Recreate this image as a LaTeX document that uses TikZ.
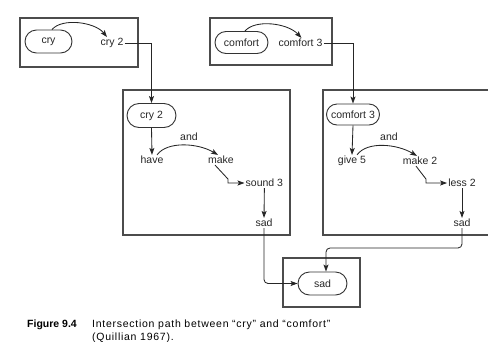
\documentclass[tikz,border=0pt]{standalone}
\usepackage{fontspec}
\setmainfont{Liberation Sans}
\newfontfamily\capfont[LetterSpace=7]{Liberation Sans}
\usetikzlibrary{shapes.misc,arrows.meta}
\begin{document}
\begin{tikzpicture}[x=1pt,y=-1pt,
  lbl/.style={font=\fontsize{10.5}{12}\selectfont, inner sep=1pt, text=black!85},
  pill/.style={draw=black!80, line width=0.9pt, rounded rectangle, inner sep=0pt,
    font=\fontsize{10.5}{12}\selectfont, text=black!85},
  frame/.style={draw=black!70, line width=1.1pt, inner sep=0pt},
  con/.style={draw=black!85, line width=0.85pt},
  arr/.style={con, -{Stealth[length=7pt,width=5pt,inset=1.5pt]}},
  rc/.style={rounded corners=4pt}]
\useasboundingbox (0,0) rectangle (488,341);
% top boxes
\node[frame, minimum width=118pt, minimum height=49pt] (boxA) at (79,42.5) {};
\node[pill, minimum width=47pt, minimum height=23pt] (cry) at (48.5,41.5) {cry};
\node[lbl] (cry2) at (112,43) {cry 2};
\node[frame, minimum width=122pt, minimum height=47pt] (boxB) at (271,41.5) {};
\node[pill, minimum width=53pt, minimum height=22pt] (comfort) at (241.5,42.5) {comfort};
\node[lbl] (comfort3) at (300.5,43) {comfort 3};
% left middle box
\node[frame, minimum width=167pt, minimum height=145pt] (boxC) at (206.5,162.5) {};
\node[pill, minimum width=49pt, minimum height=24pt] (cry2p) at (151.5,115.5) {cry 2};
\node[lbl] (have) at (152,160) {have};
\node[lbl] (and1) at (189,137) {and};
\node[lbl] (make) at (221,160) {make};
\node[lbl, anchor=west] (sound3) at (244.5,183) {sound 3};
\node[lbl] (sad1) at (264,223) {sad};
% right middle box (open on the right)
\draw[frame] (488,90) -- (323,90) -- (323,235) -- (488,235);
\node[pill, minimum width=53pt, minimum height=21pt] (comfort3p) at (353,114.5) {comfort 3};
\node[lbl] (give5) at (352,161) {give 5};
\node[lbl] (and2) at (389,137) {and};
\node[lbl] (make2) at (420,161) {make 2};
\node[lbl] (less2) at (462,183) {less 2};
\node[lbl] (sad2) at (462,223) {sad};
% bottom box
\node[frame, minimum width=77pt, minimum height=49pt] (boxE) at (321.5,282.5) {};
\node[pill, minimum width=49pt, minimum height=23pt] (sadp) at (322.5,283.5) {sad};
\coordinate (join) at (0,248);
% connectors
\draw[arr] ([xshift=3.5pt]cry.north) .. controls +(10,-12) and +(-12,-15) .. ([xshift=-5pt]cry2.north);
\draw[arr] ([xshift=3.5pt]comfort.north) .. controls +(10,-12) and +(-14,-15) .. ([xshift=1pt]comfort3.north);
\draw[arr] (cry2.east) -| (cry2p.north);
\draw[arr] (comfort3.east) -| (comfort3p.north);
\draw[arr] (cry2p.south) -- (have.north);
\draw[arr] (comfort3p.south) -- (give5.north);
\draw[arr] ([xshift=5pt]have.north) .. controls +(10,-14) and +(-20,-12) .. ([xshift=-3pt]make.north);
\draw[arr] ([xshift=5pt]give5.north) .. controls +(10,-14) and +(-20,-12) .. ([xshift=-3pt]make2.north);
\draw[arr] ([xshift=-6pt]make.south) -- ++(13,14) |- (sound3.west);
\draw[arr] ([xshift=-4pt]make2.south) -- ++(10,13) |- (less2.west);
\draw[arr] (sound3.south) -- (sad1.north);
\draw[arr] (less2.south) -- (sad2.north);
\draw[arr, rc] (sad1.south) |- (sadp.west);
\draw[arr, rc] (sad2.south) -- (sad2.south |- join) -| ([xshift=3.5pt]sadp.north);
% caption
\node[anchor=base west, inner sep=0pt, font=\fontsize{10.5}{13}\selectfont\bfseries] (fig) at (27,327) {Figure 9.4};
\node[anchor=base west, inner sep=0pt, font=\capfont\fontsize{10.5}{13}\selectfont] (cap1) at (92,327) {Intersection path between “cry” and “comfort”};
\node[anchor=base west, inner sep=0pt, font=\capfont\fontsize{10.5}{13}\selectfont] (cap2) at (92,340) {(Quillian 1967).};
\end{tikzpicture}
\end{document}
